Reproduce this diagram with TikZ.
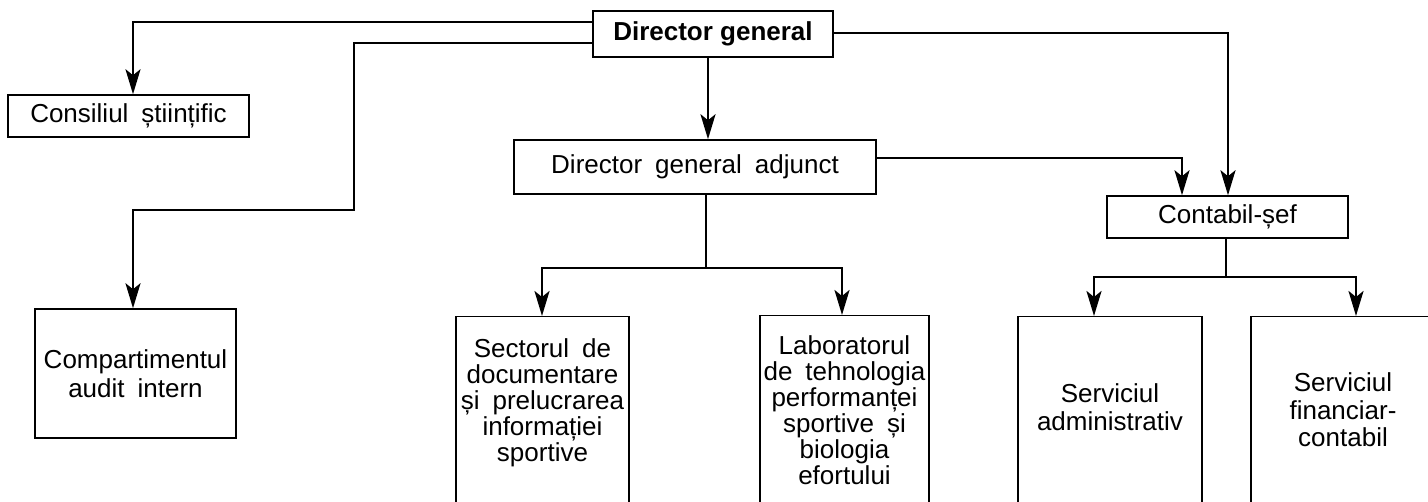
\documentclass[tikz,border=0pt]{standalone}
\usepackage{fontspec}
\setmainfont{Liberation Sans}
\usetikzlibrary{arrows.meta}
\newcommand\wsp{\hspace{0.5em}}
\tikzset{
  box/.style={draw, line width=1.5pt, inner sep=0pt, align=center, font=\fontsize{26}{29}\selectfont},
  txt/.style={inner sep=0pt, align=center, font=\fontsize{26}{26}\selectfont},
  txtw/.style={inner sep=0pt, align=center, font=\fontsize{26}{28.5}\selectfont},
  link/.style={line width=1.5pt, line cap=rect},
  arr/.style={line width=2.6pt, -{Stealth[length=25pt,width=15pt,inset=6pt]}},
}
\begin{document}
\begin{tikzpicture}[x=1pt,y=-1pt]
\useasboundingbox (0,0) rectangle (1428,502);
\clip (0,0) rectangle (1428,502);
% boxes
\node[box, minimum width=240pt, minimum height=46pt, font=\fontsize{26}{29}\selectfont\bfseries] (dg) at (713,34) {Director general};
\node[box, minimum width=241pt, minimum height=42pt] (cons) at (128.5,116) {Consiliul\wsp științific};
\node[box, minimum width=201pt, minimum height=129pt] (comp) at (135.5,373.5) {Compartimentul\\audit\wsp intern};
\node[box, minimum width=362pt, minimum height=54pt] (dga) at (695,167) {Director\wsp general\wsp adjunct};
\node[box, minimum width=241pt, minimum height=42pt] (cont) at (1227.5,217) {Contabil-șef};
\node[box, minimum width=173pt, minimum height=220pt, anchor=north] (sect) at (542.5,316) {};
\node[box, minimum width=169pt, minimum height=220pt, anchor=north] (lab) at (844.5,315) {};
\node[box, minimum width=184pt, minimum height=220pt, anchor=north] (sadm) at (1110,316) {};
\node[box, minimum width=190pt, minimum height=220pt, anchor=north] (sfin) at (1346,316) {};
% texts of the cut boxes
\node[txt] (sectT) at (542.5,403) {Sectorul\wsp de\\documentare\\și\wsp prelucrarea\\informației\\sportive};
\node[txt] (labT) at (844.5,410) {Laboratorul\\de\wsp tehnologia\\performanței\\sportive\wsp și\\biologia\\efortului};
\node[txtw] (sadmT) at (1110,407) {Serviciul\\administrativ};
\node[txt, font=\fontsize{26}{27.5}\selectfont] (sfinT) at (1343,410) {Serviciul\\financiar-\\contabil};
% connectors
\draw[link] (dg.west |- 0,22) -- (133,22);
\draw[arr] (133,22) -- (cons.north -| 133,0);
\draw[link] (dg.west |- 0,43) -| (354,210) -- (133,210);
\draw[arr] (133,210) -- (comp.north -| 133,0);
\draw[arr] (dg.south -| 708,0) -- (dga.north -| 708,0);
\draw[link] (dg.east |- 0,33) -- (1228,33);
\draw[arr] (1228,33) -- (cont.north -| 1228,0);
\draw[link] (dga.east |- 0,158) -- (1182,158);
\draw[arr] (1182,158) -- (cont.north -| 1182,0);
\draw[link] (dga.south -| 706,0) -- (706,268);
\draw[link] (542,268) -- (842,268);
\draw[arr] (542,268) -- (sect.north -| 542,0);
\draw[arr] (842,268) -- (lab.north -| 842,0);
\draw[link] (cont.south -| 1226,0) -- (1226,277);
\draw[link] (1094,277) -- (1356,277);
\draw[arr] (1094,277) -- (sadm.north -| 1094,0);
\draw[arr] (1356,277) -- (sfin.north -| 1356,0);
\end{tikzpicture}
\end{document}
